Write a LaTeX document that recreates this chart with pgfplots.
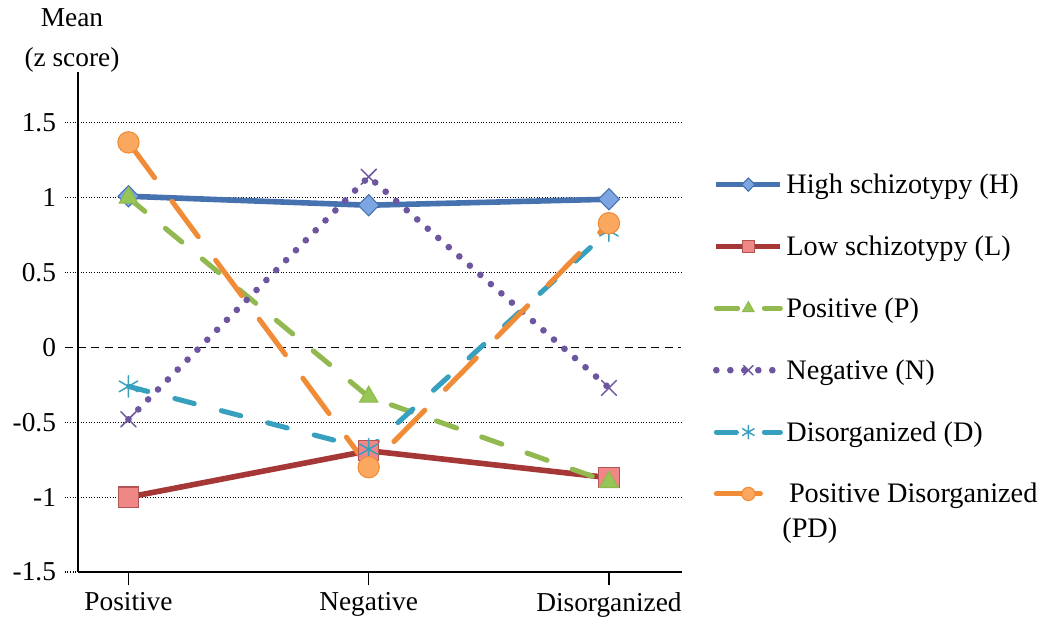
\documentclass[border=0pt]{standalone}
\usepackage{fontspec}
\setmainfont{Liberation Serif}
\usepackage{pgfplots}
\pgfplotsset{compat=1.18}

\definecolor{hline}{RGB}{70,114,176}
\definecolor{hfill}{RGB}{125,165,225}
\definecolor{lline}{RGB}{165,55,55}
\definecolor{lfill}{RGB}{240,135,135}
\definecolor{pline}{RGB}{145,185,80}
\definecolor{pfill}{RGB}{150,198,85}
\definecolor{nline}{RGB}{110,85,160}
\definecolor{dline}{RGB}{55,160,190}
\definecolor{pdline}{RGB}{240,140,55}
\definecolor{pdfill}{RGB}{250,168,95}

\begin{document}
\begin{tikzpicture}[font=\fontsize{20.5}{24}\selectfont]
\useasboundingbox (-58.5pt,-40.5pt) rectangle (729pt,429pt);
\begin{axis}[
    at={(0,0)}, anchor=south west,
    scale only axis, width=452.25pt, height=375pt,
    xmin=-0.21, xmax=2.3, ymin=-1.5, ymax=1.84,
    axis x line*=bottom, axis y line*=left,
    axis line style={-, black, line width=1pt},
    xtick={0,1,2}, xticklabels={Positive,Negative,Disorganized},
    ytick={-1.5,-1,-0.5,0.5,1,1.5},
    yticklabels={-1.5,-1,-0.5,0.5,1,1.5},
    extra y ticks={0}, extra y tick labels={0},
    extra y tick style={grid style={black, line width=1pt, dash pattern=on 6pt off 4pt},
        ytick style={black, line width=1pt, dash pattern=on 6pt off 4pt}},
    tick align=outside, major tick length=10pt,
    xtick style={black, line width=1pt},
    ytick style={black, line width=0.9pt, dash pattern=on 0.8pt off 1.2pt},
    ymajorgrids, grid style={black, line width=0.9pt, dash pattern=on 0.8pt off 1.2pt},
    yticklabel style={xshift=-3pt},
    xticklabel style={yshift=-2pt},
    clip=false,
    legend style={at={(rel axis cs:1.046,0.808)}, anchor=north west, draw=none,
        fill=none, row sep=25.9pt, font=\fontsize{21.2}{25}\selectfont,
        cells={anchor=west, text height=15pt, text depth=5pt}},
    legend image code/.code={\draw[mark repeat=2,mark phase=2,#1,
        every mark/.append style={scale=0.62}]
        plot coordinates {(0pt,0pt) (24pt,0pt) (48pt,0pt)};},
]
\addplot[hline, line width=4.2pt, mark=diamond*, mark size=8pt,
    mark options={solid, fill=hfill, draw=hline, line width=0.8pt, xscale=1.3}]
    coordinates {(0,1.01) (1,0.95) (2,0.99)};
\addlegendentry{High schizotypy (H)}
\addplot[lline, line width=4.2pt, mark=square*, mark size=7.6pt,
    mark options={solid, fill=lfill, draw=lline!85, line width=0.8pt}]
    coordinates {(0,-1.0) (1,-0.69) (2,-0.87)};
\addlegendentry{Low schizotypy (L)}
\addplot[pline, line width=3.8pt, line cap=round, dash pattern=on 16pt off 20pt,
    mark=triangle*, mark size=8pt,
    mark options={solid, fill=pfill, draw=pline, line width=0.8pt}]
    coordinates {(0,1.0) (1,-0.33) (2,-0.9)};
\addlegendentry{Positive (P)}
\addplot[nline, line width=5pt, line cap=round, dash pattern=on 0pt off 10.5pt,
    mark=x, mark size=8pt,
    mark options={solid, draw=nline, line width=1.1pt}]
    coordinates {(0,-0.48) (1,1.14) (2,-0.27)};
\addlegendentry{Negative (N)}
\addplot[dline, line width=3.8pt, line cap=round, dash pattern=on 15pt off 21pt,
    mark=asterisk, mark size=8pt,
    mark options={solid, draw=dline, line width=1.1pt}]
    coordinates {(0,-0.26) (1,-0.68) (2,0.78)};
\addlegendentry{Disorganized (D)}
\addplot[pdline, line width=3.8pt, line cap=round, dash pattern=on 33pt off 22pt,
    mark=*, mark size=8pt,
    mark options={solid, fill=pdfill, draw=pdline, line width=0.8pt}]
    coordinates {(0,1.37) (1,-0.80) (2,0.83)};
\addlegendentry{\rlap{\raisebox{-26pt}[0pt][0pt]{\hspace{-3pt}(PD)}}\hspace{2pt}Positive Disorganized}
\node[align=center, anchor=south, font=\fontsize{20.5}{30}\selectfont]
    at (rel axis cs:-0.01,0.99) {Mean\\(z score)};
\end{axis}
\end{tikzpicture}
\end{document}
